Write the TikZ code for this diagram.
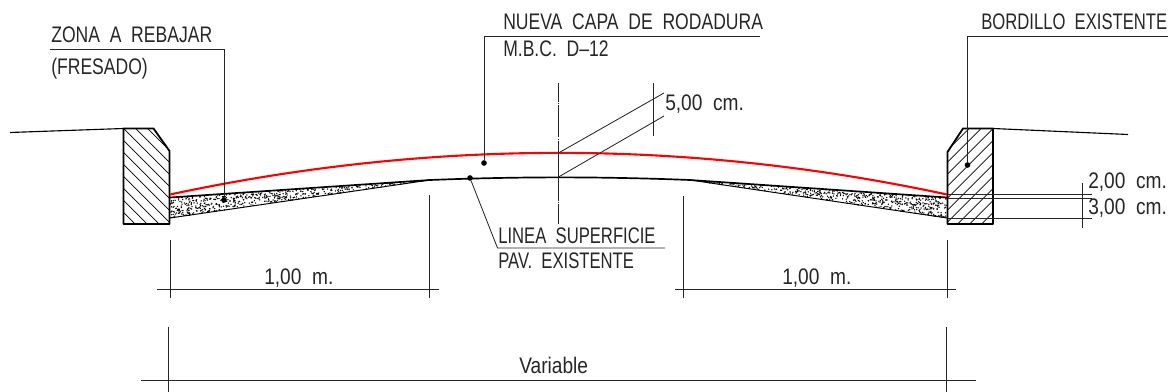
\documentclass[tikz,border=0pt]{standalone}
\usepackage{fontspec}
\setmainfont[FakeStretch=0.78,WordSpace=2]{Liberation Sans}
\newfontfamily\tightfont[FakeStretch=0.74,WordSpace=2]{Liberation Sans}
\newfontfamily\numfont[FakeStretch=0.85,WordSpace=2]{Liberation Sans}
\usepackage{xcolor}
\usepackage{tikz}
\usetikzlibrary{positioning}

\begin{document}
\begin{tikzpicture}[x=0.025cm, y=-0.025cm,
    cadtext/.style={anchor=base west, inner sep=0pt, font=\fontsize{16}{18}\selectfont, text=black!85},
    tighttext/.style={cadtext, font=\fontsize{16}{18}\selectfont\tightfont},
    numtext/.style={cadtext, font=\fontsize{16}{18}\selectfont\numfont},
    thinline/.style={draw=black!85, line width=0.6pt},
    kerbline/.style={draw=black, line width=1.3pt, line join=round},
    hatchline/.style={draw=black, line width=0.5pt},
    dotmark/.style={circle, fill=black, inner sep=0pt, minimum size=4pt}]
\useasboundingbox (0,0) rectangle (1168,392);

% milled zone
\pgfmathsetseed{11}
\foreach \i in {1,...,520} {
  \pgfmathsetmacro{\sa}{1-sqrt(rnd)}
  \pgfmathsetmacro{\sy}{198-18*\sa+rnd*20*(1-\sa)}
  \fill ({170+260*\sa}, \sy) circle (0.75);
  \pgfmathsetmacro{\sa}{1-sqrt(rnd)}
  \pgfmathsetmacro{\sy}{198-18*\sa+rnd*20*(1-\sa)}
  \fill ({947-257*\sa}, \sy) circle (0.75);
}

% kerbs
\begin{scope}
  \clip (123.5,128.5) -- (153.5,128.5) -- (169.5,151) -- (169.5,224) -- (123.5,224) -- cycle;
  \foreach \c in {-36,-24,...,96}
    \draw[hatchline] (123.5,128.5+\c) -- +(46,46);
\end{scope}
\begin{scope}
  \clip (963,128.5) -- (993,128.5) -- (993,224) -- (947.5,224) -- (947.5,152) -- cycle;
  \foreach \c in {-36,-24,...,96}
    \draw[hatchline] (993,128.5+\c) -- +(-46,46);
\end{scope}
\draw[kerbline] (123.5,128.5) -- (153.5,128.5) -- (169.5,151) -- (169.5,224) -- (123.5,224) -- cycle;
\draw[kerbline] (963,128.5) -- (993,128.5) -- (993,224) -- (947.5,224) -- (947.5,152) -- cycle;
\draw[line width=0.8pt] (10,132.5) -- (123.5,128.5);
\draw[line width=0.8pt] (993,128.5) -- (1128,134.5);

% road surface
\draw[red, line width=1.5pt] (170,194.5) .. controls (430,139) and (688,139) .. (947,194.5);
\draw[line width=1.2pt] (170,197.5) -- (430,180) .. controls (520,176.5) and (600,176.5) .. (690,180) -- (947,197.5);
\draw[line width=0.7pt] (170,218) -- (430,180);
\draw[line width=0.7pt] (947,218) -- (690,180);

% axis
\coordinate (axistop) at (558.5,83);
\coordinate (axisbot) at (558.5,224);
\coordinate (axisred) at (558.5,153);
\coordinate (axisblack) at (558.5,177);
\draw[thinline, dash pattern=on 13.5pt off 0.9pt on 0.6pt off 0.9pt on 22.7pt off 0.9pt on 0.6pt off 0.9pt on 42.7pt off 0.9pt on 0.6pt off 0.9pt on 15pt off 9pt] (axistop) -- (axisbot);

% labels and leaders
\node[cadtext] (zona) at (51,43) {ZONA A REBAJAR};
\node[cadtext] (fresado) at (51,75) {(FRESADO)};
\node[dotmark] (zonadot) at (224,200) {};
\coordinate (zonastart) at (50,49.5);
\coordinate (zonacorner) at (224,49.5);
\draw[thinline] (zonastart) -- (zonacorner) -- (zonadot);

\node[cadtext] (nueva) at (503,30) {NUEVA CAPA DE RODADURA};
\node[cadtext] (mbc) at (503,57) {M.B.C. D--12};
\node[dotmark] (nuevadot) at (484,163) {};
\coordinate (nuevacorner) at (484,36);
\coordinate (nuevaend) at (760,36);
\draw[thinline] (nuevaend) -- (nuevacorner) -- (nuevadot);

\node[tighttext] (bordillo) at (981,30) {BORDILLO EXISTENTE};
\node[dotmark] (bordillodot) at (967.5,165) {};
\coordinate (bordillocorner) at (967.5,36.5);
\coordinate (bordilloend) at (1168,36.5);
\draw[thinline] (bordilloend) -- (bordillocorner) -- (bordillodot);

\node[tighttext] (linea) at (498,244) {LINEA SUPERFICIE};
\node[tighttext] (pav) at (498,269) {PAV. EXISTENTE};
\node[dotmark] (lineadot) at (470,178) {};
\coordinate (lineacorner) at (497.5,248);
\coordinate (lineaend) at (665,248);
\draw[thinline] (lineadot) -- (lineacorner) -- (lineaend);

% 5,00 cm.
\node[numtext] (cinco) at (665,111) {5,00 cm.};
\coordinate (cincoa) at (664,93);
\coordinate (cincob) at (664,116);
\coordinate (cincotop) at (653,83);
\coordinate (cincobot) at (653,136);
\draw[thinline] (axisred) -- (cincoa);
\draw[thinline] (axisblack) -- (cincob);
\draw[thinline] (cincotop) -- (cincobot);

% 2,00 cm. and 3,00 cm.
\node[numtext] (dos) at (1088,189) {2,00 cm.};
\node[numtext] (tres) at (1088,215) {3,00 cm.};
\coordinate (tickt) at (1082,183);
\coordinate (tickb) at (1082,228);
\draw[thinline] (tickt) -- (tickb);
\foreach \y in {194.5,198,218.5}
  \draw[thinline] (947.5,\y) -- (1092,\y);

% 1,00 m.
\node[numtext] (unoa) at (264,285) {1,00 m.};
\node[numtext] (unob) at (782,285) {1,00 m.};
\draw[thinline] (157,289.5) -- (439,289.5);
\draw[thinline] (675,289.5) -- (956,289.5);
\draw[thinline] (170.5,240) -- (170.5,298);
\draw[thinline] (429,195) -- (429,298);
\draw[thinline] (683.5,196) -- (683.5,298);
\draw[thinline] (947.5,240) -- (947.5,298);

% variable
\node[numtext] (variable) at (519,373) {Variable};
\draw[thinline] (141,380) -- (976,380);
\draw[thinline] (168.5,327) -- (168.5,392);
\draw[thinline] (946.5,327) -- (946.5,392);

\end{tikzpicture}
\end{document}
